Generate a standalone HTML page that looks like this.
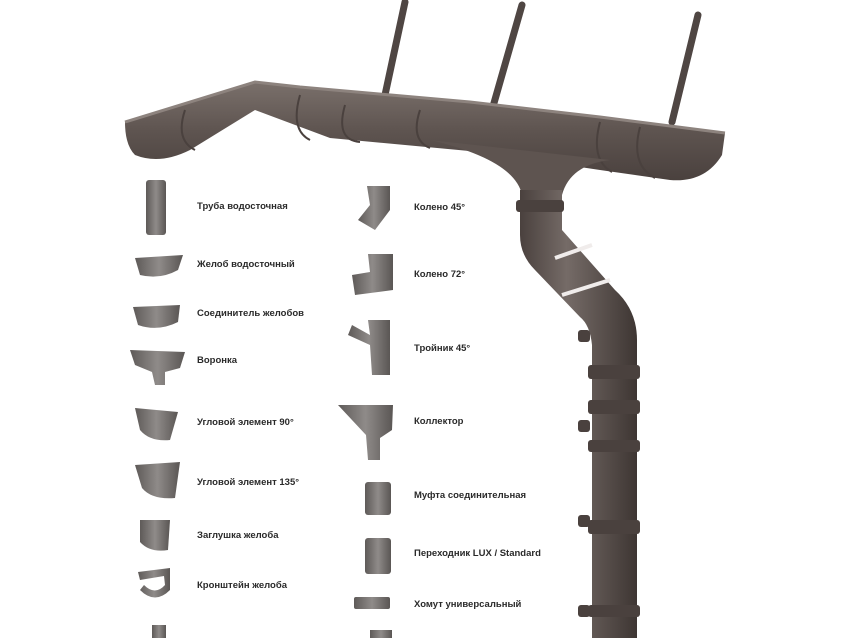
<!DOCTYPE html>
<html><head><meta charset="utf-8"><style>
html,body{margin:0;padding:0;background:#fff;width:849px;height:638px;overflow:hidden}
svg{display:block}
text{font-family:"Liberation Sans",sans-serif;font-size:9.5px;font-weight:bold;fill:#2a2a2a}
</style></head><body>
<svg width="849" height="638" viewBox="0 0 849 638">
<defs>
<linearGradient id="g" x1="0" y1="0" x2="0" y2="1"><stop offset="0" stop-color="#7a706b"/><stop offset="0.5" stop-color="#5e5450"/><stop offset="1" stop-color="#4a413e"/></linearGradient>
<linearGradient id="p" x1="0" y1="0" x2="1" y2="0"><stop offset="0" stop-color="#4a413e"/><stop offset="0.4" stop-color="#756b67"/><stop offset="1" stop-color="#3e3633"/></linearGradient>
<linearGradient id="ic" x1="0" y1="0" x2="1" y2="0"><stop offset="0" stop-color="#5e5a58"/><stop offset="0.5" stop-color="#8f8b89"/><stop offset="1" stop-color="#5a5654"/></linearGradient>
</defs>
<g stroke="#4f4643" stroke-width="7" stroke-linecap="round" fill="none">
<path d="M405 2 L385 95"/><path d="M522 5 L492 110"/><path d="M698 15 L672 122"/>
</g>
<!-- gutter -->
<path d="M125 122 L225 92 L255 82 L300 87 L470 102 L600 117 L725 133 L722 155 Q705 183 670 180 L600 170 L480 152 L330 138 L255 110 L190 150 Q160 165 135 155 Q125 145 125 122 Z" fill="url(#g)"/>
<path d="M125 122 L255 82 L300 87 L470 102 L600 117 L725 133" stroke="#8d837e" stroke-width="3" fill="none"/>
<g fill="none" stroke="#4a413e" stroke-width="2">
<path d="M185 110 Q175 140 195 150"/><path d="M300 95 Q290 130 310 140"/><path d="M345 105 Q335 140 360 142"/><path d="M420 110 Q410 140 430 148"/><path d="M600 122 Q590 160 612 172"/><path d="M640 127 Q630 165 655 178"/>
</g>
<!-- funnel + pipe -->
<path d="M430 140 L610 160 Q570 165 562 195 L522 195 Q515 160 430 140 Z" fill="#5e5450"/>
<path d="M520 190 L562 190 L562 230 L615 290 Q637 310 637 340 L637 638 L592 638 L592 345 Q590 325 580 317 L535 270 Q520 255 520 235 Z" fill="url(#p)"/>
<g fill="#4a413e">
<rect x="516" y="200" width="48" height="12" rx="3"/>
<rect x="588" y="365" width="52" height="14" rx="3"/><rect x="588" y="400" width="52" height="14" rx="3"/><rect x="588" y="440" width="52" height="12" rx="3"/>
<rect x="588" y="520" width="52" height="14" rx="3"/><rect x="588" y="605" width="52" height="12" rx="3"/>
<rect x="578" y="330" width="12" height="12" rx="3"/><rect x="578" y="420" width="12" height="12" rx="3"/><rect x="578" y="515" width="12" height="12" rx="3"/><rect x="578" y="605" width="12" height="12" rx="3"/>
</g>
<path d="M555 258 L592 245 M562 295 L610 280" stroke="#f0eceb" stroke-width="4"/>
<!-- left icons -->
<g fill="url(#ic)">
<rect x="146" y="180" width="20" height="55" rx="3"/>
<path d="M135 258 L183 255 L178 270 Q160 280 140 275 Z"/>
<path d="M133 307 L180 305 L178 322 Q158 332 138 325 Z"/>
<path d="M130 350 L185 352 L180 368 L165 372 L165 385 L155 385 L152 372 L135 365 Z"/>
<path d="M135 408 L178 412 L170 440 Q150 442 140 430 Z"/>
<path d="M135 465 L180 462 L175 498 Q152 500 142 488 Z"/>
<path d="M140 520 L170 520 L168 550 Q150 553 140 542 Z"/>
<path d="M138 572 L170 568 L170 590 Q155 605 140 590 L144 585 Q155 596 165 585 L164 576 L140 580 Z"/>
<rect x="152" y="625" width="14" height="13"/>
</g>
<!-- right icons -->
<g fill="url(#ic)">
<path d="M367 186 L390 186 L390 210 L375 230 L358 220 L370 205 Z"/>
<path d="M368 254 L393 254 L393 290 L355 295 L352 275 L370 272 Z"/>
<path d="M368 320 L390 320 L390 375 L372 375 L370 345 L348 335 L352 325 L370 335 Z"/>
<path d="M338 405 L393 405 L392 430 L380 438 L380 460 L368 460 L366 435 Z"/>
<rect x="365" y="482" width="26" height="33" rx="3"/>
<rect x="365" y="538" width="26" height="36" rx="3"/>
<rect x="354" y="597" width="36" height="12" rx="2"/>
<rect x="370" y="630" width="22" height="8"/>
</g>
<text x="197" y="209">Труба водосточная</text>
<text x="197" y="267">Желоб водосточный</text>
<text x="197" y="316">Соединитель желобов</text>
<text x="197" y="363">Воронка</text>
<text x="197" y="425">Угловой элемент 90°</text>
<text x="197" y="485">Угловой элемент 135°</text>
<text x="197" y="538">Заглушка желоба</text>
<text x="197" y="588">Кронштейн желоба</text>
<text x="414" y="210">Колено 45°</text>
<text x="414" y="277">Колено 72°</text>
<text x="414" y="351">Тройник 45°</text>
<text x="414" y="424">Коллектор</text>
<text x="414" y="498">Муфта соединительная</text>
<text x="414" y="556">Переходник LUX / Standard</text>
<text x="414" y="607">Хомут универсальный</text>
</svg>
</body></html>
